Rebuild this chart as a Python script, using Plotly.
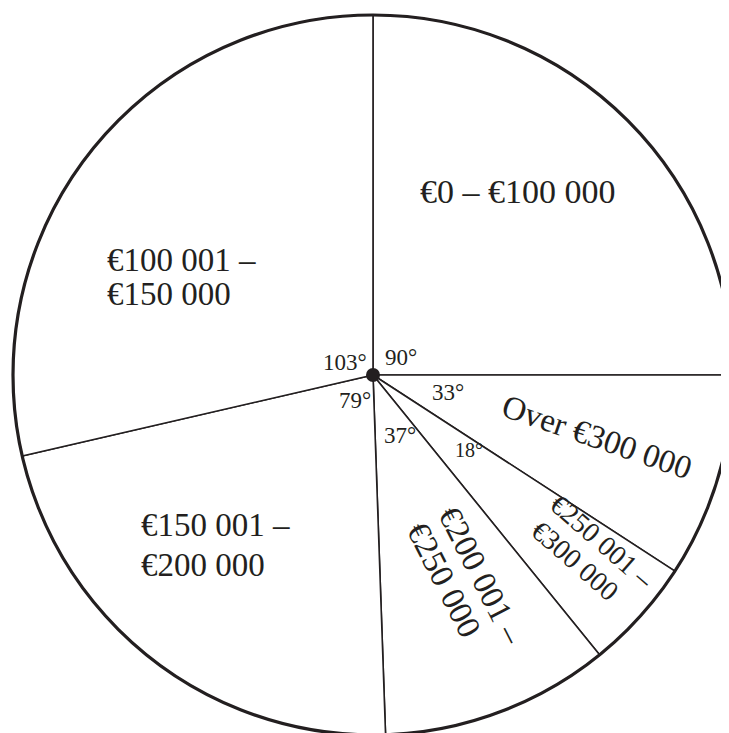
import plotly.graph_objects as go

# ---- data ----
categories = ["€0 – €100 000", "Over €300 000", "€250 001 – €300 000",
              "€200 001 – €250 000", "€150 001 – €200 000", "€100 001 – €150 000"]
angles_deg = [90, 33, 18, 37, 79, 103]
angle_labels = ["90°", "33°", "18°", "37°", "79°", "103°"]

FONT = "Liberation Serif, Times New Roman, serif"
INK = "#231f20"

fig = go.Figure()

# main pie (thin radial lines)
fig.add_trace(go.Pie(
    labels=categories, values=angles_deg, sort=False, direction="clockwise",
    rotation=0, textinfo="none", hoverinfo="label+value",
    marker=dict(colors=["white"] * len(categories), line=dict(color=INK, width=1.6)),
    showlegend=False, domain=dict(x=[0, 1], y=[0, 1]),
))
# outer ring (thick circle outline)
fig.add_trace(go.Pie(
    labels=["circle"], values=[sum(angles_deg)], sort=False, textinfo="none",
    hoverinfo="skip",
    marker=dict(colors=["rgba(0,0,0,0)"], line=dict(color=INK, width=3.2)),
    showlegend=False, domain=dict(x=[0, 1], y=[0, 1]),
))
# centre dot
W, H = 720, 720
dr = 7
fig.add_trace(go.Pie(
    labels=["centre"], values=[1], textinfo="none", hoverinfo="skip",
    marker=dict(colors=[INK], line=dict(width=0)),
    showlegend=False,
    domain=dict(x=[0.5 - dr / W, 0.5 + dr / W], y=[0.5 - dr / H, 0.5 + dr / H]),
))

def ann(text, dx, dy, size, angle=0, xanchor="center"):
    return dict(text=text, x=0.5, y=0.5, xref="paper", yref="paper",
                xshift=dx, yshift=-dy, showarrow=False, textangle=angle,
                xanchor=xanchor, yanchor="middle",
                font=dict(family=FONT, size=size, color=INK))

annotations = [
    ann("€0 – €100 000", 145, -184, 34),
    ann("€100 001 –", -268, -115, 33, xanchor="left"),
    ann("€150 000", -268, -81, 33, xanchor="left"),
    ann("€150 001 –", -234, 150, 33, xanchor="left"),
    ann("€200 000", -234, 190, 33, xanchor="left"),
    ann("Over €300 000", 224, 62, 33, angle=19),
    ann("€250 001 –", 229, 166, 28, angle=41),
    ann("€300 000", 202, 185, 28, angle=41),
    ann("€200 001 –", 108, 200, 33, angle=63),
    ann("€250 000", 71, 205, 33, angle=63),
]
# angle labels near centre
angle_pos = [(28, -18, 23), (75, 17, 23), (96, 75, 20), (27, 60, 23), (-18, 25, 23), (-28, -13, 23)]
for lab, (dx, dy, s) in zip(angle_labels, angle_pos):
    annotations.append(ann(lab, dx, dy, s))

fig.update_layout(
    width=729, height=733,
    margin=dict(l=5, r=4, t=7, b=6),
    paper_bgcolor="white", plot_bgcolor="white",
    annotations=annotations,
    showlegend=False,
)

fig.write_html("out.html")
